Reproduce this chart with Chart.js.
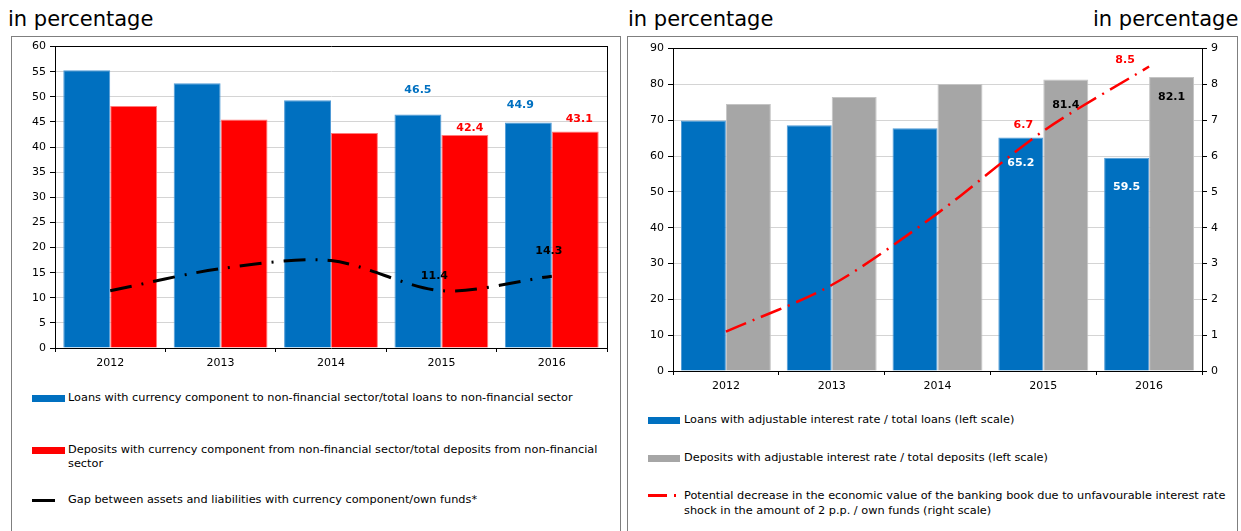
<!DOCTYPE html>
<html>
<head>
<meta charset="utf-8">
<script src="https://cdn.jsdelivr.net/npm/chart.js@4"></script>
<style>
  body { margin: 0; background: #fff; font-family: "DejaVu Sans", Verdana, sans-serif; }
  #page { position: relative; width: 1241px; height: 531px; overflow: hidden; }
  .head { position: absolute; top: 7px; font-size: 21px; color: #000; white-space: nowrap; }
  .box { position: absolute; top: 36px; height: 520px; border: 1px solid #7f7f7f; }
  canvas { position: absolute; }
  .leg { position: absolute; font-size: 11.3px; line-height: 14px; color: #000; }
  .sw { position: absolute; }
</style>
</head>
<body>
<div id="page">
  <div class="head" style="left:8px">in percentage</div>
  <div class="head" style="left:628px">in percentage</div>
  <div class="head" style="left:1093px">in percentage</div>

  <div class="box" style="left:11px; width:608px"></div>
  <div class="box" style="left:627px; width:609px"></div>

  <canvas id="left" width="606" height="340" style="left:12px; top:36px"></canvas>
  <canvas id="right" width="608" height="360" style="left:628px; top:38px"></canvas>

  <!-- legends, left panel -->
  <div class="sw" style="left:32px; top:395px; width:33px; height:7px; background:#0070c0"></div>
  <div class="leg" style="left:68px; top:391px">Loans with currency component to non-financial sector/total loans to non-financial sector</div>
  <div class="sw" style="left:32px; top:447px; width:33px; height:7px; background:#ff0000"></div>
  <div class="leg" style="left:68px; top:443px; width:540px; line-height:13.5px">Deposits with currency component from non-financial sector/total deposits from non-financial sector</div>
  <div class="sw" style="left:32px; top:499px; width:23px; height:3px; background:#000"></div>
  <div class="leg" style="left:68px; top:493px">Gap between assets and liabilities with currency component/own funds*</div>

  <!-- legends, right panel -->
  <div class="sw" style="left:648px; top:417px; width:32px; height:7px; background:#0070c0"></div>
  <div class="leg" style="left:684px; top:413px">Loans with adjustable interest rate / total loans (left scale)</div>
  <div class="sw" style="left:648px; top:455px; width:32px; height:7px; background:#a6a6a6"></div>
  <div class="leg" style="left:684px; top:451px">Deposits with adjustable interest rate / total deposits (left scale)</div>
  <div class="sw" style="left:648px; top:494px; width:19px; height:3px; background:#ff0000"></div>
  <div class="sw" style="left:674px; top:494px; width:2px; height:3px; background:#ff0000"></div>
  <div class="leg" style="left:684px; top:489px; width:548px; line-height:14.5px">Potential decrease in the economic value of the banking book due to unfavourable interest rate shock in the amount of 2 p.p. / own funds (right scale)</div>
</div>

<script>
// data
const years = ['2012', '2013', '2014', '2015', '2016'];

const fxLoans = [55.3, 52.7, 49.3, 46.5, 44.9];
const fxDeposits = [48.2, 45.5, 42.8, 42.4, 43.1];
const fxGap = [11.4, 15.8, 17.4, 11.4, 14.3];

const varLoans = [69.9, 68.6, 67.8, 65.2, 59.5];
const varDeposits = [74.5, 76.5, 80.1, 81.4, 82.1];
const evDecrease = [1.1, 2.4, 4.4, 6.7, 8.5];

const leftTicks = { min: 0, max: 60, step: 5 };
const rightTicks = { min: 0, max: 90, step: 10 };
const rightTicks2 = { min: 0, max: 9, step: 1 };

const BLUE = '#0070c0';
const RED = '#ff0000';
const GRAY = '#a6a6a6';

const tickFont = { family: 'DejaVu Sans', size: 11 };

// value labels: dataset index -> list of [point index, dx, dy, color]
function valueLabels(spec) {
    return {
        id: 'valueLabels',
        afterDatasetsDraw(chart) {
            const ctx = chart.ctx;
            ctx.save();
            ctx.font = 'bold 11px "DejaVu Sans"';
            ctx.textAlign = 'center';
            ctx.textBaseline = 'middle';
            spec.forEach(s => {
                const el = chart.getDatasetMeta(s.ds).data[s.i];
                const v = chart.data.datasets[s.ds].data[s.i];
                ctx.fillStyle = s.color;
                ctx.fillText(v.toFixed(1), el.x + s.dx, el.y + s.dy);
            });
            ctx.restore();
        }
    };
}

function fixWidth(w) { return function(scale) { scale.width = w; }; }
function fixHeight(h) { return function(scale) { scale.height = h; }; }

const xAxis = {
    grid: { offset: true, drawOnChartArea: false, drawTicks: true, tickLength: 4, color: '#000' },
    border: { color: '#000', width: 1 },
    ticks: { font: tickFont, color: '#000', padding: 5 },
    afterFit: fixHeight(28)
};

function yGrid(max) {
    return {
        color: c => c.tick && c.tick.value === max ? '#000' : '#d4d4d4',
        tickColor: '#000',
        tickLength: 5,
        lineWidth: 1
    };
}

// left chart
new Chart(document.getElementById('left'), {
    type: 'bar',
    data: {
        labels: years,
        datasets: [
            { type: 'line', label: 'gap', data: fxGap, borderColor: '#000', borderWidth: 3,
              borderDash: [22, 10, 2, 10], pointRadius: 0, tension: 0.3, fill: false, order: 0 },
            { label: 'loans', data: fxLoans, backgroundColor: BLUE, borderColor: '#4f9ad6',
              borderWidth: 1, order: 1 },
            { label: 'deposits', data: fxDeposits, backgroundColor: RED, borderColor: '#ff7b7b',
              borderWidth: 1, order: 1 }
        ]
    },
    options: {
        responsive: false,
        animation: false,
        events: [],
        categoryPercentage: 0.85,
        barPercentage: 1.0,
        layout: { padding: { top: 10, left: 0, right: 0, bottom: 0 } },
        plugins: { legend: { display: false }, tooltip: { enabled: false } },
        scales: {
            x: xAxis,
            y: {
                min: leftTicks.min, max: leftTicks.max,
                ticks: { stepSize: leftTicks.step, font: tickFont, color: '#000', padding: 4 },
                grid: yGrid(leftTicks.max),
                border: { color: '#000', width: 1 },
                afterFit: fixWidth(43)
            },
            yr: {
                position: 'right', min: 0, max: 60,
                ticks: { display: false },
                grid: { drawOnChartArea: false, drawTicks: false },
                border: { color: '#000', width: 1 },
                afterFit: fixWidth(11)
            }
        }
    },
    plugins: [valueLabels([
        { ds: 1, i: 3, dx: 0, dy: -24, color: BLUE },
        { ds: 1, i: 4, dx: -8, dy: -17, color: BLUE },
        { ds: 2, i: 3, dx: 5, dy: -7, color: RED },
        { ds: 2, i: 4, dx: 4, dy: -12, color: RED },
        { ds: 0, i: 3, dx: -7, dy: -15, color: '#000' },
        { ds: 0, i: 4, dx: -3, dy: -25, color: '#000' }
    ])]
});

// right chart
new Chart(document.getElementById('right'), {
    type: 'bar',
    data: {
        labels: years,
        datasets: [
            { type: 'line', label: 'ev', data: evDecrease, yAxisID: 'y1', borderColor: RED,
              borderWidth: 2.5, borderDash: [22, 7, 2, 7], pointRadius: 0, tension: 0.3,
              fill: false, order: 0 },
            { label: 'loans', data: varLoans, backgroundColor: BLUE, borderColor: '#4f9ad6',
              borderWidth: 1, order: 1 },
            { label: 'deposits', data: varDeposits, backgroundColor: GRAY, borderColor: '#c4c4c4',
              borderWidth: 1, order: 1 }
        ]
    },
    options: {
        responsive: false,
        animation: false,
        events: [],
        categoryPercentage: 0.85,
        barPercentage: 1.0,
        layout: { padding: { top: 10, left: 0, right: 0, bottom: 0 } },
        plugins: { legend: { display: false }, tooltip: { enabled: false } },
        scales: {
            x: Object.assign({}, xAxis, { afterFit: fixHeight(27) }),
            y: {
                min: rightTicks.min, max: rightTicks.max,
                ticks: { stepSize: rightTicks.step, font: tickFont, color: '#000', padding: 4 },
                grid: yGrid(rightTicks.max),
                border: { color: '#000', width: 1 },
                afterFit: fixWidth(45)
            },
            y1: {
                position: 'right', min: rightTicks2.min, max: rightTicks2.max,
                ticks: { stepSize: rightTicks2.step, font: tickFont, color: '#000', padding: 4 },
                grid: { drawOnChartArea: false, tickColor: '#000', tickLength: 5 },
                border: { color: '#000', width: 1 },
                afterFit: fixWidth(34)
            }
        }
    },
    plugins: [valueLabels([
        { ds: 1, i: 3, dx: 0, dy: 26, color: '#fff' },
        { ds: 1, i: 4, dx: 0, dy: 29, color: '#fff' },
        { ds: 2, i: 3, dx: 0, dy: 26, color: '#000' },
        { ds: 2, i: 4, dx: 0, dy: 20, color: '#000' },
        { ds: 0, i: 3, dx: -20, dy: -6, color: RED },
        { ds: 0, i: 4, dx: -24, dy: -6, color: RED }
    ])]
});
</script>
</body>
</html>
